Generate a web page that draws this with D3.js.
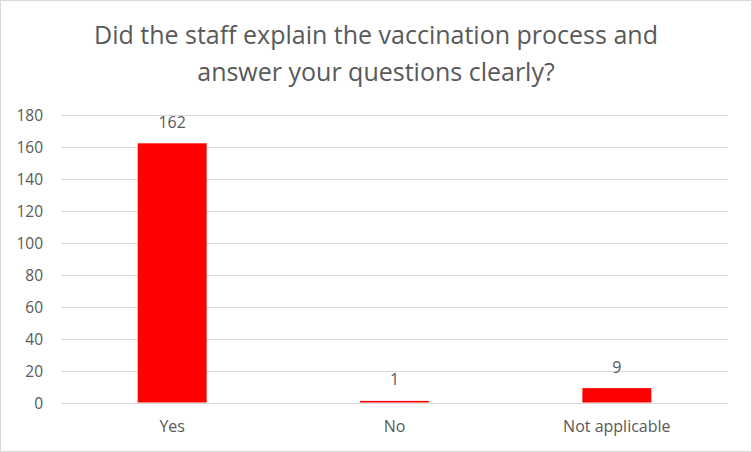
<!DOCTYPE html>
<html><head><meta charset="utf-8">
<script src="https://cdn.jsdelivr.net/npm/d3@7"></script>
<style>body{margin:0;background:#fff}svg{display:block}</style>
</head><body>
<script>
const categories = ["Yes", "No", "Not applicable"];
const values = [162, 1, 9];
const yTicks = [0, 20, 40, 60, 80, 100, 120, 140, 160, 180];
const titleLines = ["Did the staff explain the vaccination process and", "answer your questions clearly?"];

const W = 752, H = 452;
const font = "'Open Sans', 'Noto Sans', sans-serif";
const textColor = "#595959";
const svg = d3.select("body").append("svg").attr("width", W).attr("height", H);
svg.append("rect").attr("x", 0.5).attr("y", 0.5).attr("width", W - 1).attr("height", H - 1)
  .attr("fill", "#fff").attr("stroke", "#d9d9d9");

const x = d3.scaleBand().domain(categories).range([61, 728]).paddingInner(0.69).paddingOuter(0.345);
const y = d3.scaleLinear().domain([0, 180]).range([402.5, 114.5]);

const grid = svg.append("g");
grid.selectAll("line").data(yTicks).join("line")
  .attr("x1", 61).attr("x2", 728)
  .attr("y1", d => Math.round(y(d)) + 0.5).attr("y2", d => Math.round(y(d)) + 0.5)
  .attr("stroke", "#d9d9d9").attr("stroke-width", 1);

const yAxis = d3.axisLeft(y).tickValues(yTicks).tickSize(0).tickPadding(0);
const ya = svg.append("g").attr("transform", "translate(43,0)").call(yAxis);
ya.select(".domain").remove();
ya.selectAll("text").attr("fill", textColor).attr("dy", "0.36em")
  .style("font-family", font).style("font-size", "15.5px");

svg.append("g").selectAll("rect").data(values).join("rect")
  .attr("x", (d, i) => x(categories[i])).attr("width", x.bandwidth())
  .attr("y", d => y(d)).attr("height", d => y(0) - y(d))
  .attr("fill", "#ff0000");

svg.append("g").selectAll("text").data(values).join("text")
  .attr("x", (d, i) => x(categories[i]) + x.bandwidth() / 2)
  .attr("y", d => y(d) - 15.5)
  .attr("text-anchor", "middle").attr("fill", textColor)
  .style("font-family", font).style("font-size", "16px")
  .text(d => d);

const xAxis = d3.axisBottom(x).tickSize(0).tickPadding(0);
const xa = svg.append("g").attr("transform", "translate(0,432)").call(xAxis);
xa.select(".domain").remove();
xa.selectAll("text").attr("fill", textColor).attr("y", 0).attr("dy", 0)
  .style("font-family", font).style("font-size", "16px");

svg.append("g").selectAll("text").data(titleLines).join("text")
  .attr("x", 376).attr("y", (d, i) => 44 + i * 37)
  .attr("text-anchor", "middle").attr("fill", textColor)
  .style("font-family", font).style("font-size", "25px")
  .text(d => d);
</script>
</body></html>
